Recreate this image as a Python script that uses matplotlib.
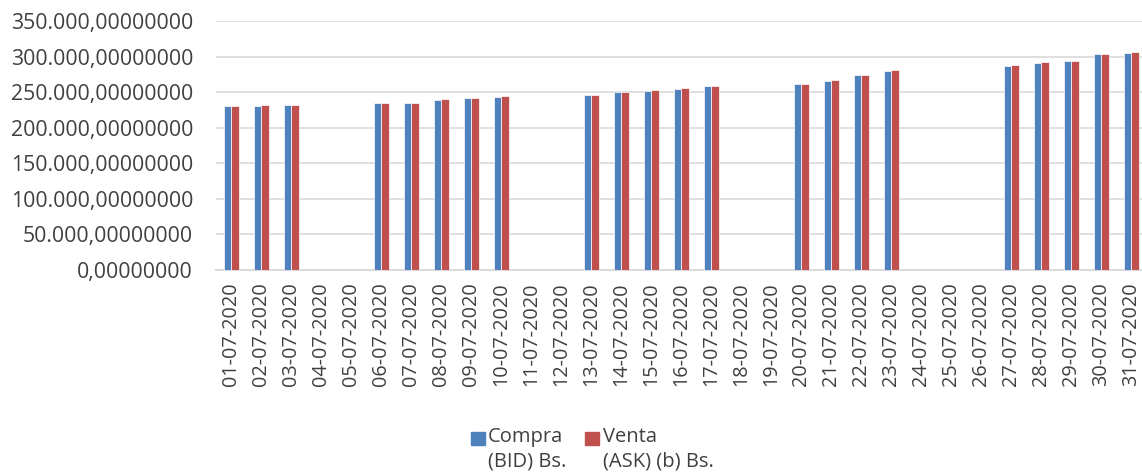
import matplotlib.pyplot as plt
import numpy as np
from matplotlib.patches import Rectangle
from matplotlib.ticker import FuncFormatter

plt.rcParams['font.family'] = ['Open Sans', 'DejaVu Sans']

nan = np.nan
# fechas de julio 2020 (fines de semana y feriados sin cotizacion)
fechas = ['%02d-07-2020' % d for d in range(1, 32)]
compra = [230700, 230300, 232300, nan, nan, 234600, 234800, 238900, 241200, 243500,
          nan, nan, 245400, 249600, 251500, 254700, 258000, nan, nan, 261300,
          265500, 273500, 279600, nan, nan, nan, 287000, 291300, 293200, 303500, 305300]
venta = [230900, 231400, 232600, nan, nan, 234800, 235000, 239800, 242100, 244100,
         nan, nan, 246400, 250500, 252400, 255200, 259000, nan, nan, 261800,
         266400, 274000, 280500, nan, nan, nan, 288000, 292200, 293600, 303900, 306300]
series = ['Compra\n(BID) Bs.', 'Venta\n(ASK) (b) Bs.']
colores = ['#4F81BD', '#C0504D']
texto = '#404040'
grid = '#d9d9d9'

W, H = 1142, 472
fig = plt.figure(figsize=(W / 100, H / 100), dpi=100)
ax = fig.add_axes([216 / W, 1 - 270 / H, 930 / W, 249 / H])

x = np.arange(len(fechas))
ancho = 0.25
ax.bar(x - ancho / 2, compra, ancho, color=colores[0], edgecolor='white', linewidth=0.5, zorder=3)
ax.bar(x + ancho / 2, venta, ancho, color=colores[1], edgecolor='white', linewidth=0.5, zorder=3)

ax.set_xlim(-0.5, len(fechas) - 0.5)
ax.set_ylim(0, 350000)
ax.set_yticks(np.arange(0, 350001, 50000))


def fmt(v, pos):
    entero = '{:,.0f}'.format(v).replace(',', '.')
    return entero + ',00000000'


ax.yaxis.set_major_formatter(FuncFormatter(fmt))
ax.set_xticks(x)
ax.set_xticklabels(fechas, rotation=90)
ax.tick_params(axis='y', length=0, pad=16.5, labelsize=15.3, labelcolor=texto)
ax.tick_params(axis='x', length=0, pad=9, labelsize=14.3, labelcolor=texto)
ax.grid(axis='y', color=grid, linewidth=1.2, zorder=0)
for s in ['left', 'right', 'top']:
    ax.spines[s].set_visible(False)
ax.spines['bottom'].set_color(grid)
ax.spines['bottom'].set_linewidth(1.4)

# leyenda
for (xs, xt), lab, c in zip([(471, 488), (585, 603)], series, colores):
    fig.patches.append(Rectangle((xs / W, 1 - 445 / H), 14 / W, 13 / H,
                                 transform=fig.transFigure, color=c))
    fig.text(xt / W, 1 - 427 / H, lab, va='top', ha='left', fontsize=14.5,
             color=texto, linespacing=1.3)

fig.savefig('out.png', dpi=100)
